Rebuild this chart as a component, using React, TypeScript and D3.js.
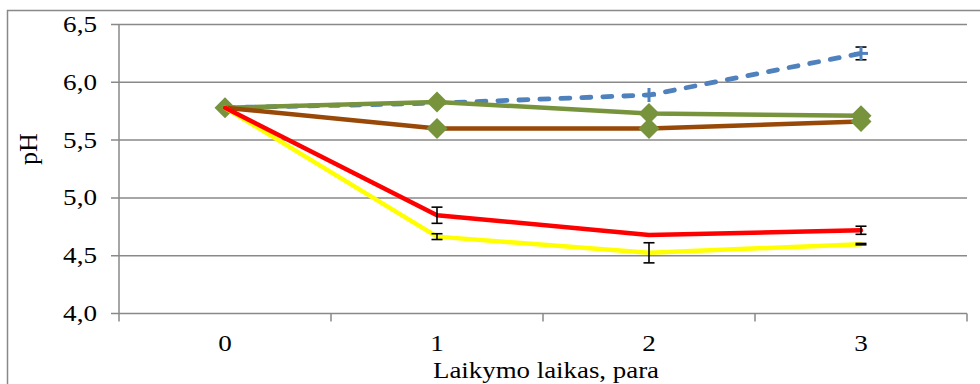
import React from "react";
import * as d3 from "d3";

// Storage time (days) and measured pH for each sample series
const days = ["0", "1", "2", "3"];
const blueValues = [5.78, 5.82, 5.89, 6.25];
const blueErrors = [0, 0, 0, 0.055];
const greenValues = [5.78, 5.83, 5.73, 5.71];
const brownValues = [5.78, 5.6, 5.6, 5.66];
const redValues = [5.78, 4.85, 4.68, 4.72];
const redErrors = [0, 0.07, 0, 0.035];
const yellowValues = [5.78, 4.665, 4.525, 4.6];
const yellowErrors = [0, 0.025, 0.087, 0.006];
const yTicks = [4.0, 4.5, 5.0, 5.5, 6.0, 6.5];

const W = 980;
const H = 384;
const FONT = "'Liberation Serif', 'Times New Roman', serif";
const GRID = "#898989";
const TICK_FS = 23;
const TICK_SX = 1.18;

export default function App() {
  const x = d3.scaleBand<string>().domain(days).range([119, 967]).padding(0);
  const cx = (d: string) => (x(d) as number) + x.bandwidth() / 2;
  const y = d3.scaleLinear().domain([4, 6.5]).range([313.5, 24.5]);

  const line = d3
    .line<number>()
    .x((_, i) => cx(days[i]))
    .y((v) => y(v));

  const fmt = (v: number) => v.toFixed(1).replace(".", ",");

  const diamond = (px: number, py: number, key: string) => (
    <path
      key={key}
      d={`M${px},${py - 10.5}L${px + 10.5},${py}L${px},${py + 10.5}L${px - 10.5},${py}Z`}
      fill="#77933C"
    />
  );

  const errorBars = (vals: number[], errs: number[], prefix: string) =>
    vals.map((v, i) => {
      const e = errs[i];
      if (!e) return null;
      const px = cx(days[i]);
      const y1 = y(v + e);
      const y2 = y(v - e);
      return (
        <g key={prefix + i} stroke="#000" strokeWidth={1.6}>
          <line x1={px} x2={px} y1={y1} y2={y2} />
          <line x1={px - 5.5} x2={px + 5.5} y1={y1} y2={y1} />
          <line x1={px - 5.5} x2={px + 5.5} y1={y2} y2={y2} />
        </g>
      );
    });

  const bandEdges = days.map((d) => x(d) as number).concat([967]);

  return (
    <svg
      width={W}
      height={H}
      style={{ position: "absolute", left: 0, top: 0, background: "#fff" }}
      fontFamily={FONT}
    >
      {/* chart frame */}
      <rect x={7.5} y={10.5} width={1000} height={400} fill="none" stroke={GRID} strokeWidth={1.5} />

      {/* horizontal gridlines and y ticks */}
      {yTicks.map((t) => (
        <g key={t}>
          <line x1={111} x2={967} y1={y(t)} y2={y(t)} stroke={GRID} strokeWidth={1.5} />
          <text
            transform={`translate(97,${y(t) + 7.5}) scale(${TICK_SX},1)`}
            textAnchor="end"
            fontSize={TICK_FS}
            fill="#000"
          >
            {fmt(t)}
          </text>
        </g>
      ))}

      {/* y axis */}
      <line x1={119} x2={119} y1={y(6.5)} y2={y(4)} stroke={GRID} strokeWidth={1.5} />

      {/* x category ticks */}
      {bandEdges.map((e, i) => (
        <line key={i} x1={e} x2={e} y1={y(4)} y2={y(4) + 8} stroke={GRID} strokeWidth={1.5} />
      ))}
      {days.map((d) => (
        <text
          key={d}
          transform={`translate(${cx(d)},350.5) scale(${TICK_SX},1)`}
          textAnchor="middle"
          fontSize={TICK_FS}
          fill="#000"
        >
          {d}
        </text>
      ))}

      {/* axis titles */}
      <text
        transform="translate(546,378) scale(1.12,1)"
        textAnchor="middle"
        fontSize={24}
        fill="#000"
      >
        Laikymo laikas, para
      </text>
      <text
        transform={`translate(37,149) rotate(-90)`}
        textAnchor="middle"
        fontSize={26}
        fill="#000"
      >
        pH
      </text>

      {/* blue dashed series with plus markers */}
      <path
        d={line(blueValues) as string}
        fill="none"
        stroke="#4F81BD"
        strokeWidth={4.8}
        strokeDasharray="9,12"
        strokeLinecap="round"
      />
      {errorBars(blueValues, blueErrors, "be")}
      {blueValues.map((v, i) =>
        i >= 2 ? (
          <g key={"bp" + i} stroke="#4F81BD" strokeWidth={3}>
            <line x1={cx(days[i]) - 7} x2={cx(days[i]) + 7} y1={y(v)} y2={y(v)} />
            <line x1={cx(days[i])} x2={cx(days[i])} y1={y(v) - 7} y2={y(v) + 7} />
          </g>
        ) : null
      )}

      {/* green series */}
      <path d={line(greenValues) as string} fill="none" stroke="#77933C" strokeWidth={4.5} strokeLinejoin="round" />
      {greenValues.map((v, i) => diamond(cx(days[i]), y(v), "gd" + i))}

      {/* brown series */}
      <path d={line(brownValues) as string} fill="none" stroke="#984807" strokeWidth={4.5} strokeLinejoin="round" />
      {brownValues.map((v, i) => (i > 0 ? diamond(cx(days[i]), y(v), "bd" + i) : null))}

      {/* yellow and red series */}
      <path d={line(yellowValues) as string} fill="none" stroke="#FFFF00" strokeWidth={4.5} strokeLinejoin="round" strokeLinecap="round" />
      <path d={line(redValues) as string} fill="none" stroke="#FF0000" strokeWidth={4.5} strokeLinejoin="round" strokeLinecap="round" />
      {errorBars(yellowValues, yellowErrors, "ye")}
      {errorBars(redValues, redErrors, "re")}
    </svg>
  );
}
